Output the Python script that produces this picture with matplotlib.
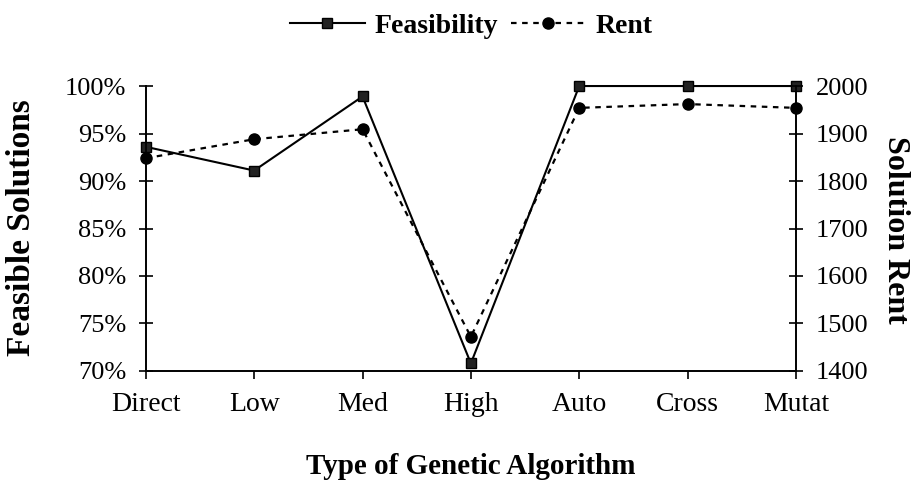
import matplotlib
matplotlib.use('Agg')
import matplotlib.pyplot as plt
from matplotlib.ticker import FuncFormatter

# data
algorithms = ['Direct', 'Low', 'Med', 'High', 'Auto', 'Cross', 'Mutat']
feasibility = [93.6, 91.1, 98.9, 70.8, 100.0, 100.0, 100.0]
rent = [1848, 1888, 1909, 1472, 1954, 1962, 1954]

plt.rcParams['font.family'] = ['Liberation Serif', 'DejaVu Serif']

fig = plt.figure(figsize=(9.17, 4.93), dpi=100)
ax = fig.add_axes([0.159, 0.2475, 0.709, 0.578])
ax2 = ax.twinx()

x = list(range(len(algorithms)))
l1, = ax.plot(x, feasibility, color='black', lw=1.5, marker='s', ms=7,
              mfc='#222222', mec='black', label='Feasibility', zorder=3, clip_on=False)
l2, = ax2.plot(x, rent, color='black', lw=1.6, ls=(0, (2.5, 2.5)), marker='o', ms=8,
               mfc='black', mec='black', label='Rent', clip_on=False)

ax.set_xlim(0, 6)
ax.set_ylim(70, 100)
ax.set_yticks([70, 75, 80, 85, 90, 95, 100])
ax.yaxis.set_major_formatter(FuncFormatter(lambda v, p: '%d%%' % v))
ax2.set_ylim(1400, 2000)
ax2.set_yticks(range(1400, 2001, 100))

ax.set_xticks(x)
ax.set_xticklabels(algorithms)

for a in (ax, ax2):
    a.spines['top'].set_visible(False)
    for s in a.spines.values():
        s.set_linewidth(1.2)
ax.tick_params(axis='y', direction='inout', length=10, width=1.2, labelsize=19, pad=9)
ax2.tick_params(axis='y', direction='inout', length=10, width=1.2, labelsize=19, pad=9)
ax.tick_params(axis='x', direction='out', length=6, width=1.2, labelsize=20, pad=9)

# axis titles placed in figure pixels
W, H = 917, 493
fig.text(22 / W, 1 - 228 / H, 'Feasible Solutions', fontsize=24, fontweight='bold',
         rotation=90, ha='center', va='center')
fig.text(896 / W, 1 - 230 / H, 'Solution Rent', fontsize=23, fontweight='bold',
         rotation=-90, ha='center', va='center')
fig.text(0.5 * (146 + 796) / W, 1 - 467 / H, 'Type of Genetic Algorithm', fontsize=21,
         fontweight='bold', ha='center', va='center')

fig.legend(handles=[l1, l2], loc='center', bbox_to_anchor=(471 / W, 1 - 26 / H), ncol=2,
           frameon=False, prop={'weight': 'bold', 'size': 20},
           handlelength=2.7, columnspacing=0.45, handletextpad=0.35, borderpad=0)

fig.savefig('out.png', dpi=100)
